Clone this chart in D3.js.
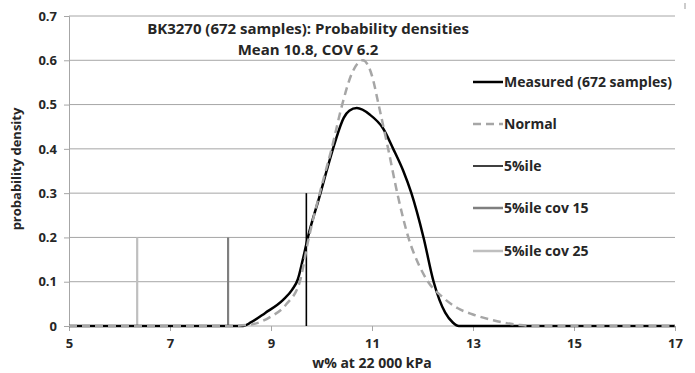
<!DOCTYPE html>
<html>
<head>
<meta charset="utf-8">
<script src="https://cdn.jsdelivr.net/npm/d3@7"></script>
<style>
  html, body { margin: 0; padding: 0; background: #fff; }
  svg { display: block; }
  text { font-family: "Open Sans", sans-serif; font-weight: bold; fill: #262626; }
</style>
</head>
<body>
<svg id="chart" width="695" height="373"></svg>
<script>
// ---- Data ----
const titleLines = ["BK3270 (672 samples): Probability densities", "Mean 10.8, COV 6.2"];
const xTicks = [5, 7, 9, 11, 13, 15, 17];
const yTicks = [0, 0.1, 0.2, 0.3, 0.4, 0.5, 0.6, 0.7];
const yTickLabels = ["0", "0.1", "0.2", "0.3", "0.4", "0.5", "0.6", "0.7"];

const measuredX = [5, 8.45, 8.6, 8.88, 9.24, 9.42, 9.53, 9.63, 9.73, 9.98, 10.1, 10.27, 10.44, 10.55, 10.70, 10.96, 11.22, 11.42, 11.62, 11.78, 12.02, 12.22, 12.45, 12.6, 12.72, 17];
const measuredY = [0, 0, 0.008, 0.029, 0.059, 0.082, 0.105, 0.15, 0.2, 0.3, 0.35, 0.416, 0.47, 0.486, 0.492, 0.477, 0.446, 0.40, 0.35, 0.30, 0.2, 0.1, 0.03, 0.008, 0, 0];

const normalX = [5, 8.15, 8.58, 8.98, 9.31, 9.57, 9.75, 10.0, 10.2, 10.41, 10.6, 10.82, 11.0, 11.13, 11.32, 11.52, 11.72, 11.92, 12.11, 12.4, 12.7, 13.0, 13.4, 13.93, 14.2, 17];
const normalY = [0, 0, 0.003, 0.02, 0.05, 0.1, 0.2, 0.315, 0.4, 0.5, 0.57, 0.6, 0.565, 0.5, 0.40, 0.29, 0.2, 0.14, 0.1, 0.065, 0.04, 0.026, 0.013, 0.002, 0, 0];

const percentileNames = ["5%ile", "5%ile cov 15", "5%ile cov 25"];
const percentileX = [9.7, 8.15, 6.35];
const percentileH = [0.3, 0.2, 0.2];
const percentileColors = ["#000000", "#7f7f7f", "#bfbfbf"];

const legendNames = ["Measured (672 samples)", "Normal", "5%ile", "5%ile cov 15", "5%ile cov 25"];
const legendColors = ["#000000", "#a6a6a6", "#000000", "#7f7f7f", "#bfbfbf"];
const legendWidths = [2.5, 2.5, 1.5, 2.5, 2.5];
const legendDash = [null, "8,5", null, null, null];

const xTitle = "w% at 22 000 kPa";
const yTitle = "probability density";

// ---- Layout ----
const svg = d3.select("#chart");
const x = d3.scaleLinear().domain([5, 17]).range([69, 675]);
const y = d3.scaleLinear().domain([0, 0.7]).range([326, 16]);
const FONT = "'Open Sans', sans-serif";

// gridlines
svg.append("g").selectAll("line").data(yTicks.slice(1)).join("line")
  .attr("x1", x(5)).attr("x2", x(17))
  .attr("y1", d => y(d)).attr("y2", d => y(d))
  .attr("stroke", "#a6a6a6").attr("stroke-width", 1);

// y axis
const yAxis = d3.axisLeft(y).tickValues(yTicks)
  .tickFormat((d, i) => yTickLabels[i]).tickSize(5).tickPadding(7);
const gy = svg.append("g").attr("transform", `translate(${x(5)},0)`).call(yAxis);
gy.select(".domain").attr("stroke", "#a6a6a6");
gy.selectAll(".tick line").attr("stroke", "#a6a6a6");
gy.selectAll(".tick text").style("font-size", "13px").style("font-family", FONT).style("font-weight", "bold").attr("fill", "#262626");

// x axis
const xAxis = d3.axisBottom(x).tickValues(xTicks).tickFormat(d3.format("d")).tickSize(5).tickPadding(8);
const gx = svg.append("g").attr("transform", `translate(0,${y(0)})`).call(xAxis);
gx.select(".domain").attr("stroke", "#a6a6a6").attr("d", `M${x(5)},0H${x(17)}`);
gx.selectAll(".tick line").attr("stroke", "#a6a6a6");
gx.selectAll(".tick text").style("font-size", "13px").style("font-family", FONT).style("font-weight", "bold").attr("fill", "#262626");

// percentile vertical lines
svg.append("g").selectAll("line").data(percentileX).join("line")
  .attr("x1", d => x(d)).attr("x2", d => x(d))
  .attr("y1", y(0)).attr("y2", (d, i) => y(percentileH[i]))
  .attr("stroke", (d, i) => percentileColors[i])
  .attr("stroke-width", (d, i) => i === 0 ? 1.6 : 2.2);

// curves
const line = d3.line().x(d => x(d[0])).y(d => y(d[1])).curve(d3.curveMonotoneX);
const normalPts = normalX.map((v, i) => [v, normalY[i]]);
const measuredPts = measuredX.map((v, i) => [v, measuredY[i]]);

svg.append("path").datum(measuredPts).attr("d", line)
  .attr("fill", "none").attr("stroke", "#000").attr("stroke-width", 2.5);
svg.append("path").datum(normalPts).attr("d", line)
  .attr("fill", "none").attr("stroke", "#a6a6a6").attr("stroke-width", 2.5)
  .attr("stroke-dasharray", "8,5");

// legend
const legendY = [82, 124, 166, 208, 251];
const lg = svg.append("g");
legendNames.forEach((name, i) => {
  lg.append("line").attr("x1", 473).attr("x2", 503)
    .attr("y1", legendY[i]).attr("y2", legendY[i])
    .attr("stroke", legendColors[i]).attr("stroke-width", legendWidths[i])
    .attr("stroke-dasharray", legendDash[i]);
  lg.append("text").attr("x", 504).attr("y", legendY[i]).attr("dy", "0.35em")
    .style("font-size", "14px").text(name);
});

// title
svg.append("g").selectAll("text").data(titleLines).join("text")
  .attr("x", 308).attr("y", (d, i) => 29 + i * 21).attr("dy", "0.35em")
  .attr("text-anchor", "middle").style("font-size", "15px").text(d => d);

// axis titles
svg.append("text").attr("x", 372).attr("y", 363).attr("dy", "0.35em")
  .attr("text-anchor", "middle").style("font-size", "14px").text(xTitle);
svg.append("text").attr("transform", "translate(16,169) rotate(-90)").attr("dy", "0.35em")
  .attr("text-anchor", "middle").style("font-size", "13px").text(yTitle);

// small stray mark at top-right of the reference
svg.append("line").attr("x1", 685).attr("x2", 685).attr("y1", 3).attr("y2", 9)
  .attr("stroke", "#999").attr("stroke-width", 1);
</script>
</body>
</html>
